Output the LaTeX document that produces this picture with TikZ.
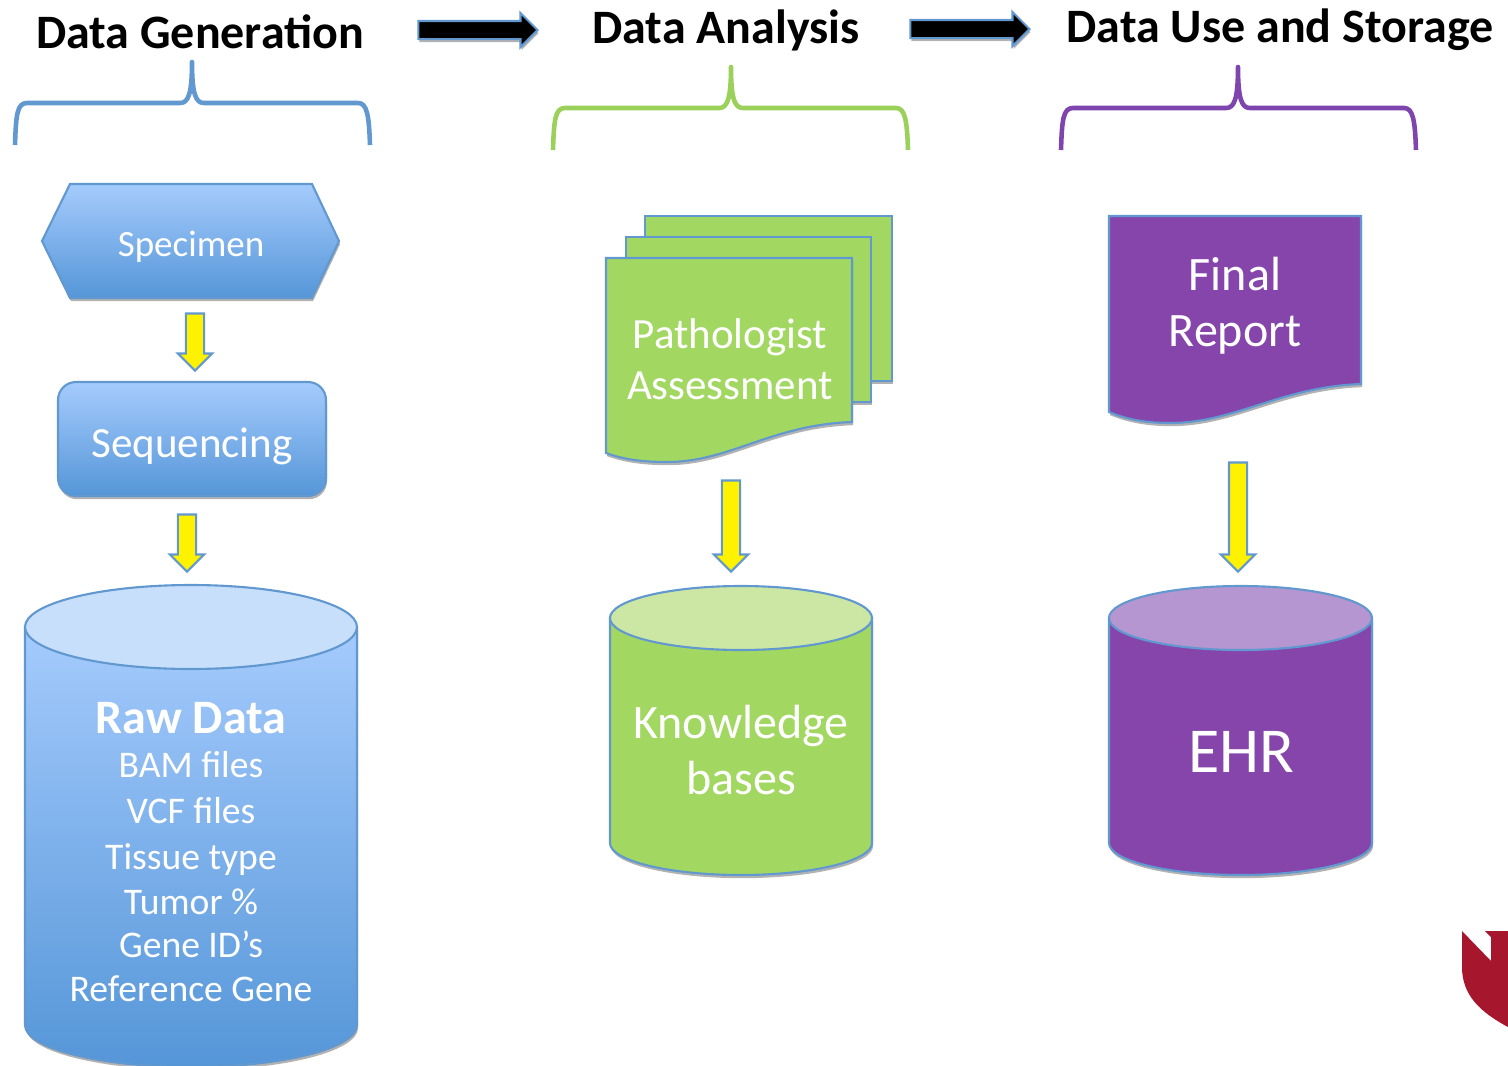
\documentclass[tikz,border=0pt]{standalone}
\usepackage{fontspec}
\setmainfont{Carlito}
\usetikzlibrary{shapes,arrows,positioning,calc,shadows}
\definecolor{bluelite}{HTML}{A5CBFD}
\definecolor{bluedark}{HTML}{5596D8}
\definecolor{bluetop}{HTML}{C8DFFC}
\definecolor{blueline}{HTML}{6198CF}
\definecolor{greenfill}{HTML}{A2D762}
\definecolor{greentop}{HTML}{CCE7A4}
\definecolor{greenbrace}{HTML}{9BD05B}
\definecolor{purplefill}{HTML}{8545AB}
\definecolor{purpletop}{HTML}{B596D0}
\definecolor{purplebrace}{HTML}{7F45AE}
\definecolor{shieldred}{HTML}{A6172D}
\newcommand{\pxfont}[1]{\fontsize{\the\dimexpr 0.2845pt*#1\relax}{\the\dimexpr 0.2845pt*#1\relax}\selectfont}
\begin{document}
\begin{tikzpicture}[x=0.01cm,y=-0.01cm,
  softshadow/.style={drop shadow={shadow xshift=0.3pt,shadow yshift=-0.9pt,opacity=0.3,fill=black}},
  outline/.style={draw=blueline,line width=0.6pt},
  blueshape/.style={outline,top color=bluelite,bottom color=bluedark,softshadow},
  greenshape/.style={outline,fill=greenfill,softshadow},
  purpleshape/.style={outline,fill=purplefill,softshadow},
  brace/.style={line width=1.3pt,line join=round},
  heading/.style={font=\fontsize{13.65pt}{15pt}\selectfont\bfseries,text=black,inner sep=0pt},
  whitetext/.style={text=white,align=center,inner sep=0pt},
  yellowarrow/.style={single arrow,draw=blueline,fill=yellow,line width=0.6pt,rotate=-90,
    inner sep=0pt,text height=0.16cm,text depth=0pt,minimum width=0.33cm,minimum height=#1,
    single arrow head extend=0.08cm,single arrow tip angle=90,anchor=tip},
  blackarrow/.style={single arrow,draw=blueline,fill=black,line width=0.6pt,
    inner sep=0pt,text height=0.16cm,text depth=0pt,minimum width=0.33cm,minimum height=1.19cm,
    single arrow head extend=0.08cm,single arrow tip angle=90,anchor=tip,softshadow}
]
\useasboundingbox (0,0) rectangle (1508,1066);
% headings
\node[heading] (gen) at (200,32) {Data Generation};
\node[heading] (ana) at (726,30) {Data Analysis};
\node[heading] (use) at (1280,30) {Data Use and Storage};
\node[blackarrow] (genana) at (539,30) {};
\node[blackarrow] (anause) at (1031,29) {};
% braces
\draw[brace,blueline] (15,145) .. controls (16,115) and (17,103) .. (27,103) -- (180,103)
  .. controls (188,103) and (192,95) .. (192,62) .. controls (192,95) and (196,103) .. (204,103)
  -- (358,103) .. controls (367,103) and (369,115) .. (370,145);
\draw[brace,greenbrace] (553,150) .. controls (554,120) and (555,108) .. (565,108) -- (719,108)
  .. controls (727,108) and (731,100) .. (731,67) .. controls (731,100) and (735,108) .. (743,108)
  -- (896,108) .. controls (905,108) and (907,120) .. (908,150);
\draw[brace,purplebrace] (1061,150) .. controls (1062,120) and (1063,108) .. (1073,108) -- (1226,108)
  .. controls (1234,108) and (1238,100) .. (1238,67) .. controls (1238,100) and (1242,108) .. (1250,108)
  -- (1404,108) .. controls (1413,108) and (1415,120) .. (1416,150);
% first column
\draw[blueshape] (70,184) -- (312,184) -- (339,241) -- (312,298) -- (70,298) -- (42,241) -- cycle;
\node[whitetext,font=\pxfont{37}] (specimen) at (191,247) {Specimen};
\node[yellowarrow=0.57cm] (a1) at (195,372) {};
\draw[blueshape,rounded corners=0.18cm] (58,382) rectangle (326,496);
\node[whitetext,font=\pxfont{43}] (sequencing) at (192,446) {Sequencing};
\node[yellowarrow=0.57cm] (a2) at (187,573) {};
\draw[blueshape] (25,627) -- (25,1025) arc[start angle=180,end angle=0,x radius=166,y radius=42]
  -- (357,627) -- cycle;
\draw[outline,fill=bluetop] (191,627) ellipse[x radius=166,y radius=42];
\node[whitetext,font=\fontsize{10.7pt}{10.7pt}\selectfont] (rawdata) at (191,852) {{\pxfont{48}\bfseries Raw Data}\\[2pt]
  BAM files\\[2.4pt] VCF files\\[2.4pt] Tissue type\\[2.1pt] Tumor \%\\[1.5pt] Gene ID’s\\[1.8pt] Reference Gene};
% second column
\draw[greenshape] (645,216) rectangle (892,381);
\draw[greenshape] (626,237) rectangle (871,402);
\draw[greenshape] (606,258) -- (852,258) -- (852,422) .. controls (770,425) and (730,462) .. (667,462)
  .. controls (645,462) and (625,460) .. (606,453) -- cycle;
\node[whitetext,font=\pxfont{43}] (assess) at (730,359) {Pathologist\\[2.3pt] Assessment};
\node[yellowarrow=0.91cm] (a3) at (731,573) {};
\draw[greenshape] (610,618) -- (610,843) arc[start angle=180,end angle=0,x radius=131,y radius=32]
  -- (872,618) -- cycle;
\draw[outline,fill=greentop] (741,618) ellipse[x radius=131,y radius=32];
\node[whitetext,font=\pxfont{48}] (know) at (741,750) {Knowledge\\[2.3pt] bases};
% third column
\draw[purpleshape] (1109,216) -- (1361,216) -- (1361,384) .. controls (1280,387) and (1235,423) .. (1170,423)
  .. controls (1148,423) and (1128,420) .. (1109,412) -- cycle;
\node[whitetext,font=\pxfont{48}] (report) at (1235,306) {Final\\[2.3pt] Report};
\node[yellowarrow=1.09cm] (a4) at (1238,573) {};
\draw[purpleshape] (1109,618) -- (1109,843) arc[start angle=180,end angle=0,x radius=131.5,y radius=32]
  -- (1372,618) -- cycle;
\draw[outline,fill=purpletop] (1240.5,618) ellipse[x radius=131.5,y radius=32];
\node[whitetext,font=\pxfont{64}] (ehr) at (1241,752) {EHR};
% logo corner
\fill[shieldred] (1462,931) -- (1491,961) -- (1491,937) -- (1485,931) -- (1508,931) -- (1508,1027)
  .. controls (1480,1012) and (1462,995) .. (1462,967) -- cycle;
\end{tikzpicture}
\end{document}
